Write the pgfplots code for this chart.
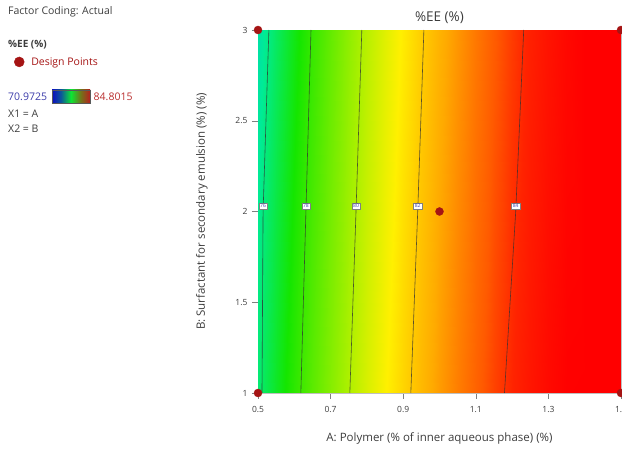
\documentclass[border=0pt]{standalone}
\usepackage{fontspec}
\setmainfont{Open Sans}
\usepackage{pgfplots}
\pgfplotsset{compat=1.18}
\definecolor{dp}{RGB}{165,20,20}
\definecolor{txt}{RGB}{60,60,60}
\definecolor{lowc}{RGB}{60,60,170}
\definecolor{highc}{RGB}{185,45,45}
\definecolor{cline}{RGB}{50,50,50}
\pgfdeclarehorizontalshading{legbar}{100bp}{rgb(0bp)=(0.05,0.05,0.75); rgb(25bp)=(0.05,0.05,0.75); rgb(37bp)=(0.05,0.35,0.6); rgb(50bp)=(0.05,0.9,0.2); rgb(63bp)=(0.45,0.45,0.1); rgb(75bp)=(0.72,0.12,0.12); rgb(100bp)=(0.72,0.12,0.12)}
\begin{document}
\begin{tikzpicture}[x=1pt,y=1pt]
\path[use as bounding box] (0,0) rectangle (622,450);
\begin{axis}[
  at={(258pt,57pt)}, anchor=south west,
  scale only axis, width=363pt, height=363pt,
  xmin=0.5, xmax=1.5, ymin=1, ymax=3,
  clip=false,
  xtick={0.5,0.7,0.9,1.1,1.3,1.5},
  ytick={1,1.5,2,2.5,3},
  tick align=outside, major tick length=6pt,
  xtick pos=bottom, ytick pos=left,
  tick style={gray, thin},
  axis line style={gray!50, thin},
  /pgf/number format/assume math mode=true,
  ticklabel style={font=\fontsize{8.5}{9}\selectfont, text=txt},
  xticklabel style={yshift=-4pt},
  yticklabel style={xshift=-1pt},
  xlabel={A: Polymer (\% of inner aqueous phase) (\%)},
  ylabel={B: Surfactant for secondary emulsion (\%) (\%)},
  label style={font=\fontsize{11.5}{13}\selectfont, text=txt},
  xlabel style={yshift=-13pt},
  ylabel style={yshift=21pt},
  title={\%EE (\%)},
  title style={font=\fontsize{13.5}{15}\selectfont, text=txt, yshift=-3pt},
  colormap={de}{rgb255(0pt)=(0,0,255); rgb255(200pt)=(0,170,255); rgb255(342pt)=(0,235,150); rgb255(465pt)=(20,230,0); rgb255(646pt)=(170,240,0); rgb255(747pt)=(255,240,0); rgb255(841pt)=(255,170,0); rgb255(920pt)=(255,90,0); rgb255(957pt)=(255,35,0); rgb255(1000pt)=(255,0,0)},
  point meta min=70.9725, point meta max=84.8015,
  legend style={at={(-0.672,0.912)}, anchor=west, draw=none, fill=none,
    font=\fontsize{10.5}{12}\selectfont, text=dp, inner sep=0pt,
    /tikz/every odd column/.append style={column sep=5pt}},
  legend cell align=left,
]
\addplot[surf, shader=interp, point meta=explicit, forget plot] table[x=x, y=y, meta=z] {
x y z
0.50 1 76.11
0.55 1 76.99
0.60 1 77.81
0.65 1 78.59
0.70 1 79.33
0.75 1 80.01
0.80 1 80.67
0.85 1 81.26
0.90 1 81.82
0.95 1 82.33
1.00 1 82.79
1.05 1 83.22
1.10 1 83.59
1.15 1 83.92
1.20 1 84.20
1.25 1 84.44
1.30 1 84.64
1.35 1 84.79
1.40 1 84.89
1.45 1 84.95
1.50 1 84.96

0.50 3 75.39
0.55 3 76.29
0.60 3 77.15
0.65 3 77.97
0.70 3 78.75
0.75 3 79.47
0.80 3 80.15
0.85 3 80.78
0.90 3 81.38
0.95 3 81.93
1.00 3 82.43
1.05 3 82.88
1.10 3 83.29
1.15 3 83.66
1.20 3 83.98
1.25 3 84.26
1.30 3 84.48
1.35 3 84.67
1.40 3 84.81
1.45 3 84.91
1.50 3 84.96
};
% contour lines
\addplot[cline, line width=0.6pt, opacity=0.8, forget plot] coordinates {(0.511,1) (0.514,2) (0.530,3)};
\addplot[cline, line width=0.6pt, opacity=0.8, forget plot] coordinates {(0.618,1) (0.632,2) (0.646,3)};
\addplot[cline, line width=0.6pt, opacity=0.8, forget plot] coordinates {(0.753,1) (0.770,2) (0.786,3)};
\addplot[cline, line width=0.6pt, opacity=0.8, forget plot] coordinates {(0.921,1) (0.940,2) (0.957,3)};
\addplot[cline, line width=0.6pt, opacity=0.8, forget plot] coordinates {(1.179,1) (1.210,2) (1.232,3)};
% contour labels
\addplot[draw=none, mark=none, forget plot, nodes near coords, point meta=explicit symbolic,
  every node near coord/.style={anchor=center, font=\fontsize{5}{5}\selectfont, text=lowc, draw=gray, fill=white, inner sep=1.3pt}]
  coordinates {(0.514,2.03)[76] (0.632,2.03)[78] (0.770,2.03)[80] (0.940,2.03)[82] (1.210,2.03)[84]};
% design points
\addplot[only marks, mark=*, mark size=4pt, color=dp, forget plot] coordinates {(0.5,1) (0.5,3) (1.5,1) (1.5,3) (1,2)};
\addlegendimage{only marks, mark=*, mark size=5pt, color=dp}
\addlegendentry{Design Points}
\end{axis}
\node[anchor=west, text=txt, font=\fontsize{10.5}{12}\selectfont, inner sep=0pt] at (8,438) {Factor Coding: Actual};
\node[anchor=west, text=txt, font=\bfseries\fontsize{10}{12}\selectfont, inner sep=0pt] at (8,405) {\%EE (\%)};
\node[anchor=west, text=lowc, font=\fontsize{10.5}{12}\selectfont, inner sep=0pt] at (8,353.5) {70.9725};
\shade[shading=legbar, draw=gray!70!black] (52,347) rectangle (90,360);
\node[anchor=west, text=highc, font=\fontsize{10.5}{12}\selectfont, inner sep=0pt] at (93.5,353.5) {84.8015};
\node[anchor=west, text=txt, font=\fontsize{10.5}{12}\selectfont, inner sep=0pt] at (8,336) {X1 = A};
\node[anchor=west, text=txt, font=\fontsize{10.5}{12}\selectfont, inner sep=0pt] at (8,321) {X2 = B};
\end{tikzpicture}
\end{document}
